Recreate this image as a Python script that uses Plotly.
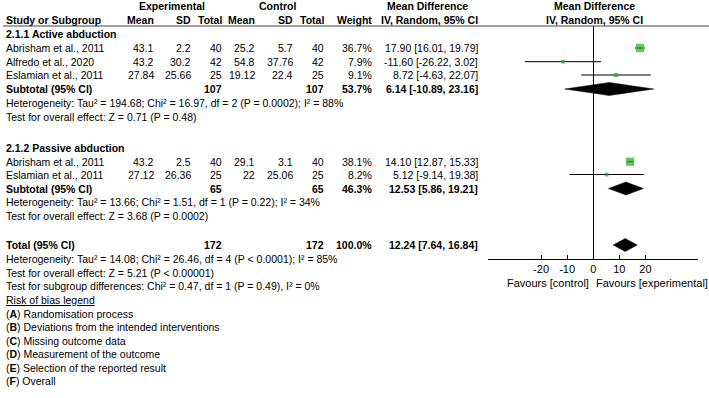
import plotly.graph_objects as go

W, H = 709, 398
FONT = "Arial, 'Liberation Sans', Helvetica, sans-serif"
FS = 10.5
GREEN = "#12b312"

# ---------------- data ----------------
g1_title = "2.1.1 Active abduction"
g1_names = ["Abrisham et al., 2011", "Alfredo et al., 2020", "Eslamian et al., 2011"]
g1_exp_mean = [43.1, 43.2, 27.84]
g1_exp_sd = [2.2, 30.2, 25.66]
g1_exp_n = [40, 42, 25]
g1_ctl_mean = [25.2, 54.8, 19.12]
g1_ctl_sd = [5.7, 37.76, 22.4]
g1_ctl_n = [40, 42, 25]
g1_weight = [36.7, 7.9, 9.1]
g1_md = [17.90, -11.60, 8.72]
g1_lo = [16.01, -26.22, -4.63]
g1_hi = [19.79, 3.02, 22.07]
g1_sub = {"n_exp": 107, "n_ctl": 107, "weight": 53.7, "md": 6.14, "lo": -10.89, "hi": 23.16}
g1_het = "Heterogeneity: Tau² = 194.68; Chi² = 16.97, df = 2 (P = 0.0002); I² = 88%"
g1_test = "Test for overall effect: Z = 0.71 (P = 0.48)"

g2_title = "2.1.2 Passive abduction"
g2_names = ["Abrisham et al., 2011", "Eslamian et al., 2011"]
g2_exp_mean = [43.2, 27.12]
g2_exp_sd = [2.5, 26.36]
g2_exp_n = [40, 25]
g2_ctl_mean = [29.1, 22]
g2_ctl_sd = [3.1, 25.06]
g2_ctl_n = [40, 25]
g2_weight = [38.1, 8.2]
g2_md = [14.10, 5.12]
g2_lo = [12.87, -9.14]
g2_hi = [15.33, 19.38]
g2_sub = {"n_exp": 65, "n_ctl": 65, "weight": 46.3, "md": 12.53, "lo": 5.86, "hi": 19.21}
g2_het = "Heterogeneity: Tau² = 13.66; Chi² = 1.51, df = 1 (P = 0.22); I² = 34%"
g2_test = "Test for overall effect: Z = 3.68 (P = 0.0002)"

total = {"n_exp": 172, "n_ctl": 172, "weight": 100.0, "md": 12.24, "lo": 7.64, "hi": 16.84}
total_notes = [
    "Heterogeneity: Tau² = 14.08; Chi² = 26.46, df = 4 (P < 0.0001); I² = 85%",
    "Test for overall effect: Z = 5.21 (P < 0.00001)",
    "Test for subgroup differences: Chi² = 0.47, df = 1 (P = 0.49), I² = 0%",
]
rob_title = "Risk of bias legend"
rob_letters = ["A", "B", "C", "D", "E", "F"]
rob_items = ["Randomisation process", "Deviations from the intended interventions",
             "Missing outcome data", "Measurement of the outcome",
             "Selection of the reported result", "Overall"]

tick_vals = [-20, -10, 0, 10, 20]
tick_text = ["-20", "-10", "0", "10", "20"]
favours_left = "Favours [control]"
favours_right = "Favours [experimental]"

# ---------------- layout constants (pixels) ----------------
Y_H1, Y_H2, Y_LINE = 6, 20, 26
Y_AXIS = 259
ROWS_G1 = dict(title=33.5, studies=[48, 61.7, 75], sub=89, het=103, test=116.5)
ROWS_G2 = dict(title=148, studies=[161.7, 174.5], sub=188.5, het=202.5, test=216)
Y_TOT = 245
Y_TOT_NOTES = [259, 272.5, 286]
Y_ROB = 300
Y_ROB0, ROB_STEP = 313.5, 13.5
X_LEFT = 6
COL_R = dict(em=154, es=191, en=222, cm=255, cs=293, cn=324, w=372, md=478)
X_LO_PX, X_HI_PX, ZERO_PX, PX_PER_UNIT = 488, 698, 593.25, 2.61

annos = []


def txt(x, y, s, anchor="left", bold=False, size=FS):
    annos.append(dict(x=x / W, y=1 - y / H, xref="paper", yref="paper", text=(f"<b>{s}</b>" if bold else s),
                      showarrow=False, xanchor=anchor, yanchor="middle", borderpad=0, borderwidth=0,
                      font=dict(family=FONT, size=size, color="#000")))


def fmt(v):
    return f"{v:g}"


def mdtxt(m, lo, hi):
    return f"{m:.2f} [{lo:.2f}, {hi:.2f}]"


# headers
txt(172, Y_H1, "Experimental", "center", True)
txt(277, Y_H1, "Control", "center", True)
txt(428, Y_H1, "Mean Difference", "center", True)
txt(594, Y_H1, "Mean Difference", "center", True)
txt(X_LEFT, Y_H2, "Study or Subgroup", "left", True)
for key, lab in [("em", "Mean"), ("es", "SD"), ("en", "Total"), ("cm", "Mean"), ("cs", "SD"), ("cn", "Total"), ("w", "Weight")]:
    txt(COL_R[key], Y_H2, lab, "right", True)
txt(COL_R["md"], Y_H2, "IV, Random, 95% CI", "right", True)
txt(594, Y_H2, "IV, Random, 95% CI", "center", True)


def group(title, names, em, es, en, cm, cs, cn, w, md, lo, hi, sub, het, test, rows):
    txt(X_LEFT, rows["title"], title, "left", True)
    for i, nm in enumerate(names):
        y = rows["studies"][i]
        txt(X_LEFT, y, nm)
        txt(COL_R["em"], y, fmt(em[i]), "right")
        txt(COL_R["es"], y, fmt(es[i]), "right")
        txt(COL_R["en"], y, fmt(en[i]), "right")
        txt(COL_R["cm"], y, fmt(cm[i]), "right")
        txt(COL_R["cs"], y, fmt(cs[i]), "right")
        txt(COL_R["cn"], y, fmt(cn[i]), "right")
        txt(COL_R["w"], y, f"{w[i]:.1f}%", "right")
        txt(COL_R["md"], y, mdtxt(md[i], lo[i], hi[i]), "right")
    y = rows["sub"]
    txt(X_LEFT, y, "Subtotal (95% CI)", "left", True)
    txt(COL_R["en"], y, str(sub["n_exp"]), "right", True)
    txt(COL_R["cn"], y, str(sub["n_ctl"]), "right", True)
    txt(COL_R["w"], y, f"{sub['weight']:.1f}%", "right", True)
    txt(COL_R["md"], y, mdtxt(sub["md"], sub["lo"], sub["hi"]), "right", True)
    txt(X_LEFT, rows["het"], het)
    txt(X_LEFT, rows["test"], test)


group(g1_title, g1_names, g1_exp_mean, g1_exp_sd, g1_exp_n, g1_ctl_mean, g1_ctl_sd, g1_ctl_n,
      g1_weight, g1_md, g1_lo, g1_hi, g1_sub, g1_het, g1_test, ROWS_G1)
group(g2_title, g2_names, g2_exp_mean, g2_exp_sd, g2_exp_n, g2_ctl_mean, g2_ctl_sd, g2_ctl_n,
      g2_weight, g2_md, g2_lo, g2_hi, g2_sub, g2_het, g2_test, ROWS_G2)

txt(X_LEFT, Y_TOT, "Total (95% CI)", "left", True)
txt(COL_R["en"], Y_TOT, str(total["n_exp"]), "right", True)
txt(COL_R["cn"], Y_TOT, str(total["n_ctl"]), "right", True)
txt(COL_R["w"], Y_TOT, f"{total['weight']:.1f}%", "right", True)
txt(COL_R["md"], Y_TOT, mdtxt(total["md"], total["lo"], total["hi"]), "right", True)
for s, y in zip(total_notes, Y_TOT_NOTES):
    txt(X_LEFT, y, s)
txt(X_LEFT, Y_ROB, f"<u>{rob_title}</u>")
for i, (l, s) in enumerate(zip(rob_letters, rob_items)):
    txt(X_LEFT, Y_ROB0 + i * ROB_STEP, f"(<b>{l}</b>) {s}")

txt(589, 283, favours_left, "right", size=11)
txt(596, 283, favours_right, "left", size=11)

# ---------------- forest marks ----------------
fig = go.Figure()
study_md = g1_md + g2_md
study_lo = g1_lo + g2_lo
study_hi = g1_hi + g2_hi
study_w = g1_weight + g2_weight
study_y = ROWS_G1["studies"] + ROWS_G2["studies"]

cx, cy = [], []
for lo, hi, y in zip(study_lo, study_hi, study_y):
    cx += [lo, hi, None]
    cy += [y, y, None]
fig.add_trace(go.Scatter(x=cx, y=cy, mode="lines", line=dict(color="#000", width=1),
                         hoverinfo="skip", showlegend=False))
fig.add_trace(go.Scatter(x=study_md, y=study_y, mode="markers",
                         marker=dict(symbol="square", color=GREEN,
                                     size=[1.33 * w ** 0.5 for w in study_w], line=dict(width=0)),
                         showlegend=False))

HALF = 6.5
for d, y in [(g1_sub, ROWS_G1["sub"]), (g2_sub, ROWS_G2["sub"]), (total, Y_TOT)]:
    fig.add_trace(go.Scatter(x=[d["lo"], d["md"], d["hi"], d["md"], d["lo"]],
                             y=[y, y - HALF, y, y + HALF, y], mode="lines", fill="toself",
                             fillcolor="#000", line=dict(color="#000", width=0.5),
                             hoverinfo="skip", showlegend=False))

x0 = (X_LO_PX - ZERO_PX) / PX_PER_UNIT
x1 = (X_HI_PX - ZERO_PX) / PX_PER_UNIT

fig.update_layout(
    width=W, height=H, margin=dict(l=0, r=0, t=0, b=0), autosize=False,
    paper_bgcolor="white", plot_bgcolor="rgba(0,0,0,0)",
    font=dict(family=FONT, size=FS, color="#000"),
    xaxis=dict(domain=[X_LO_PX / W, X_HI_PX / W], range=[x0, x1], showgrid=False,
               zeroline=True, zerolinecolor="#000", zerolinewidth=1,
               showline=True, linecolor="#000", linewidth=1,
               tickvals=tick_vals, ticktext=tick_text, ticks="inside", ticklen=4,
               tickcolor="#000", tickwidth=1,
               tickfont=dict(family=FONT, size=11, color="#000"), fixedrange=True),
    yaxis=dict(domain=[(H - Y_AXIS) / H, (H - Y_LINE) / H], range=[Y_AXIS, Y_LINE], visible=False,
               fixedrange=True),
    annotations=annos,
    shapes=[dict(type="line", xref="paper", yref="paper", x0=3 / W, x1=1, y0=1 - Y_LINE / H, y1=1 - Y_LINE / H,
                 line=dict(color="#444", width=1))],
)

fig.write_html("out.html")
